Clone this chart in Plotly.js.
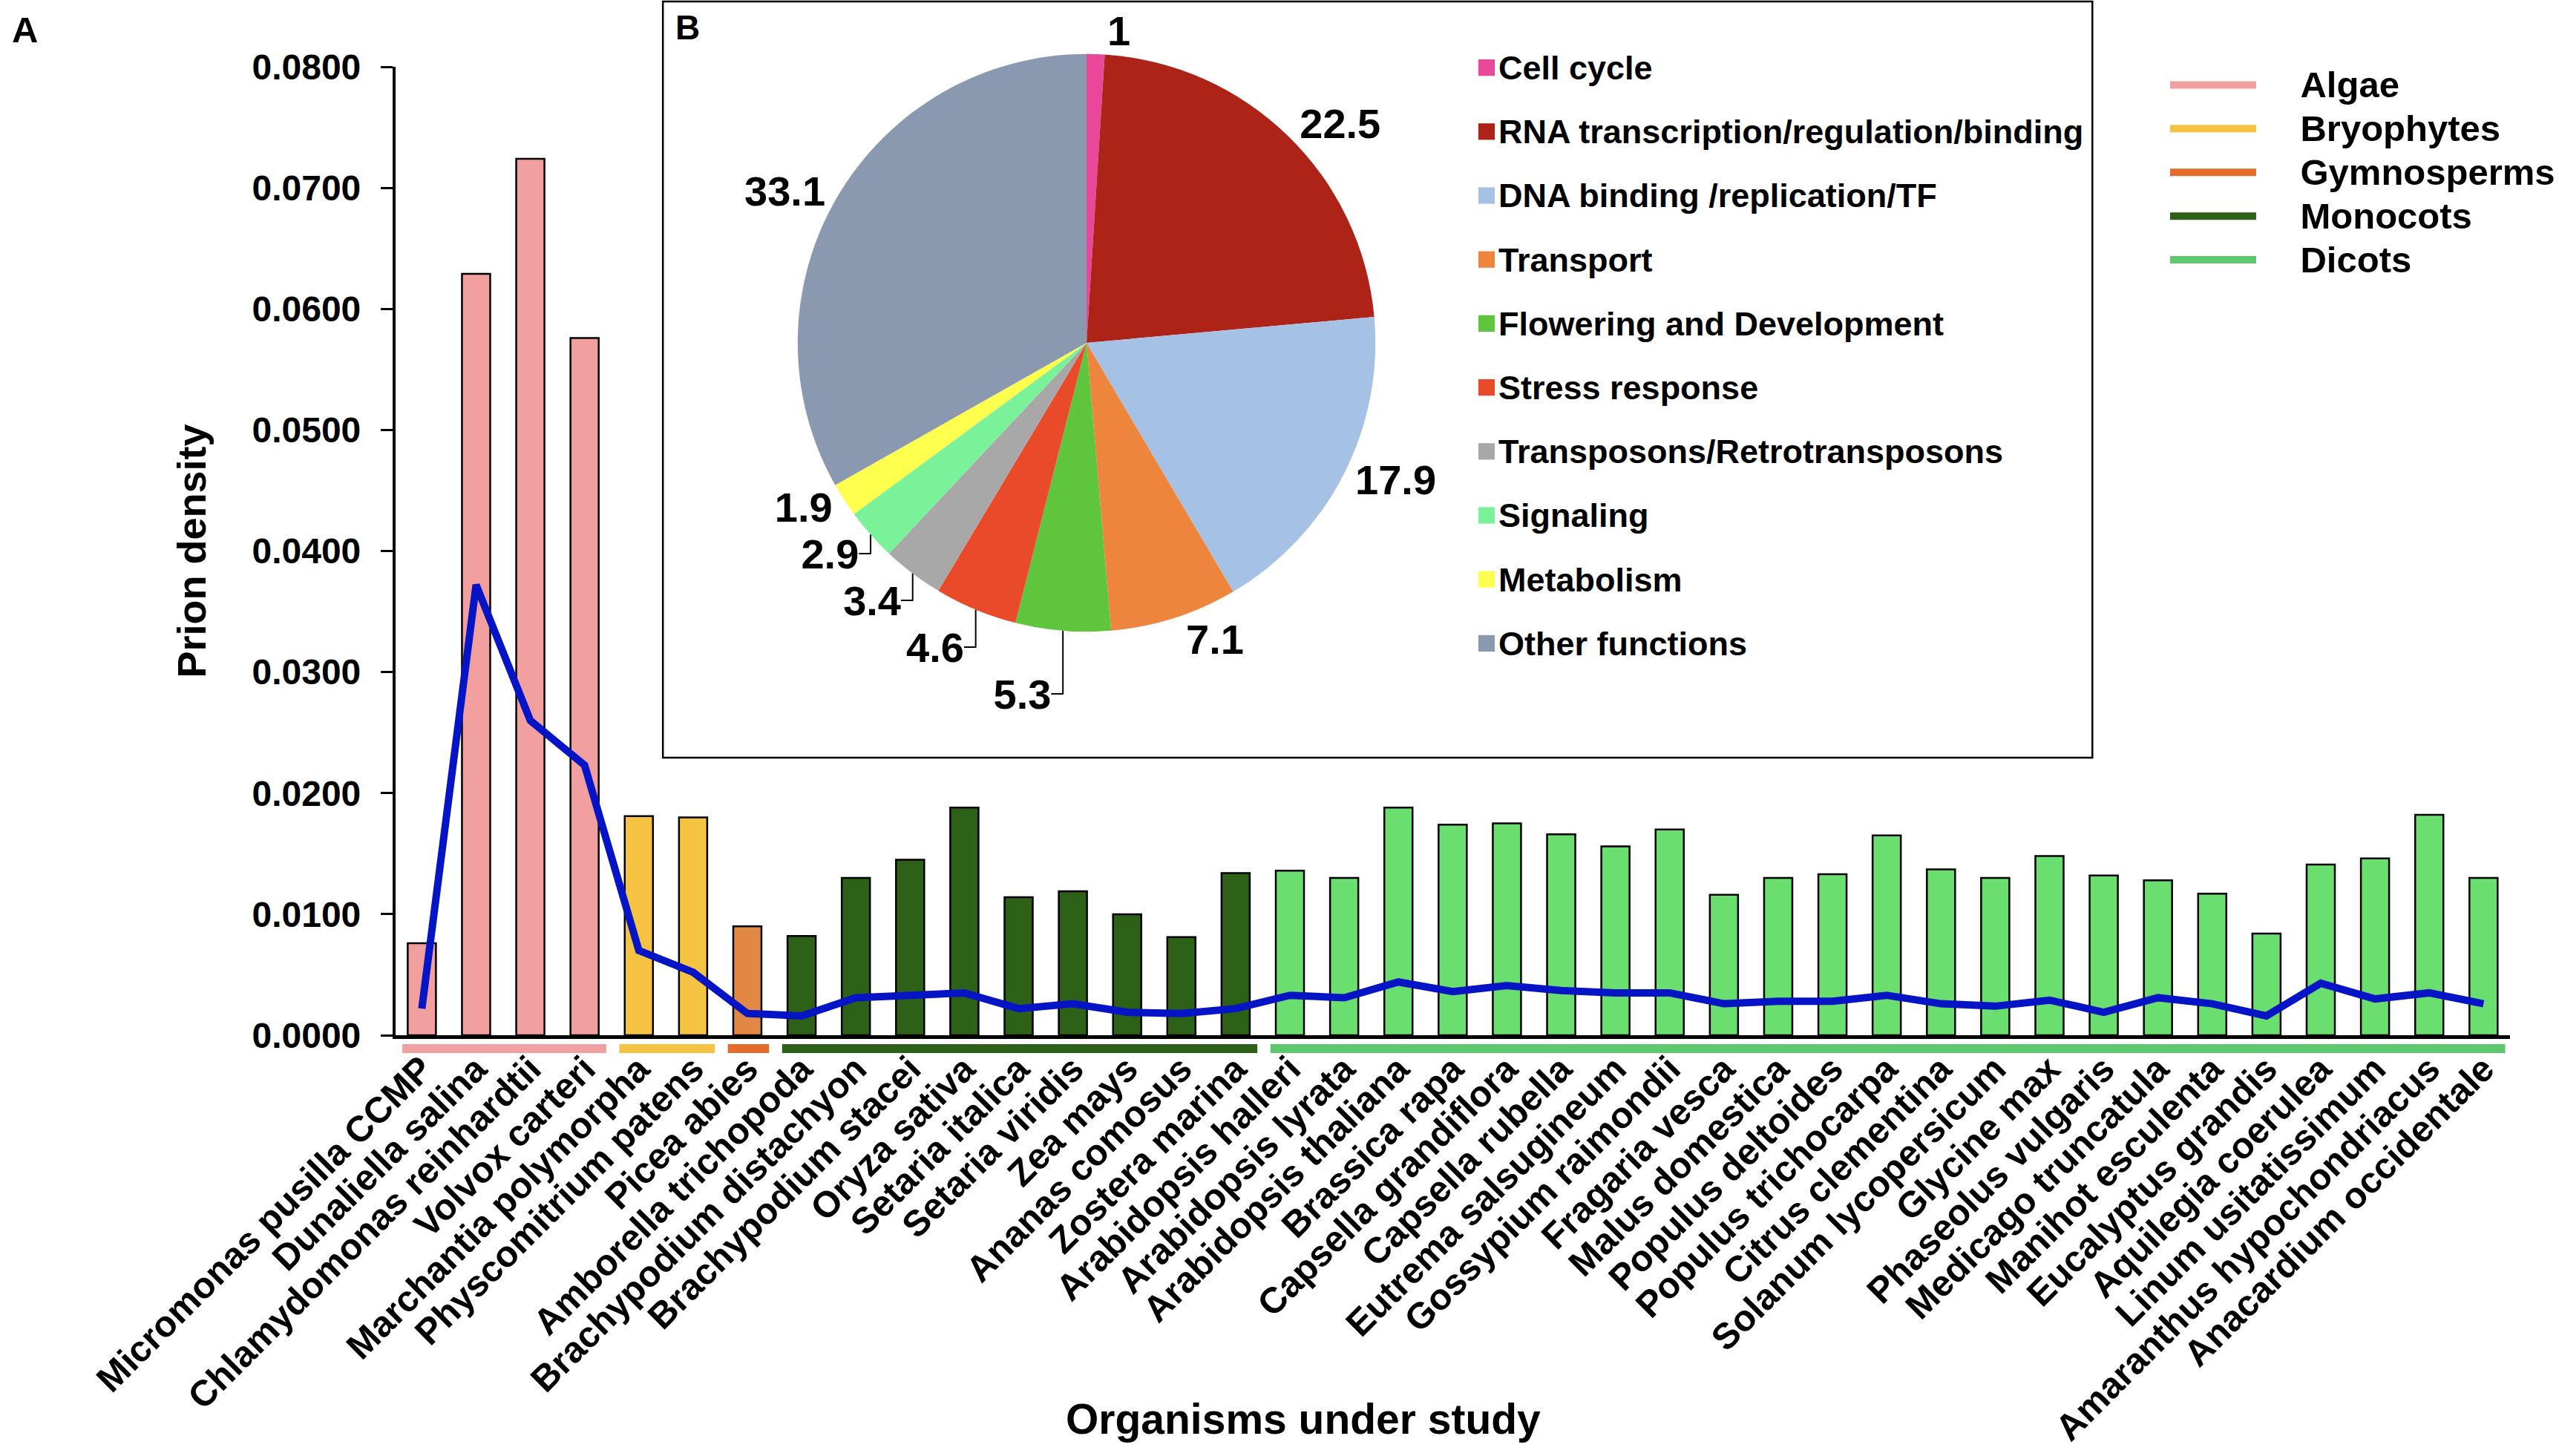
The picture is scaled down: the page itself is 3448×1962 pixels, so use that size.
<!DOCTYPE html>
<html>
<head>
<meta charset="utf-8">
<script src="https://cdn.plot.ly/plotly-3.0.1.min.js"></script>
<style>
  html, body { margin: 0; padding: 0; background: #ffffff; }
  #chart { width: 3448px; height: 1962px; }
</style>
</head>
<body>
<div id="chart"></div>
<script>
// ---------- DATA ----------
const organisms = [
  'Micromonas pusilla CCMP', 'Dunaliella salina', 'Chlamydomonas reinhardtii', 'Volvox carteri',
  'Marchantia polymorpha', 'Physcomitrium patens',
  'Picea abies',
  'Amborella trichopoda', 'Brachypodium distachyon', 'Brachypodium stacei', 'Oryza sativa',
  'Setaria italica', 'Setaria viridis', 'Zea mays', 'Ananas comosus', 'Zostera marina',
  'Arabidopsis halleri', 'Arabidopsis lyrata', 'Arabidopsis thaliana', 'Brassica rapa',
  'Capsella grandiflora', 'Capsella rubella', 'Eutrema salsugineum', 'Gossypium raimondii',
  'Fragaria vesca', 'Malus domestica', 'Populus deltoides', 'Populus trichocarpa',
  'Citrus clementina', 'Solanum lycopersicum', 'Glycine max', 'Phaseolus vulgaris',
  'Medicago truncatula', 'Manihot esculenta', 'Eucalyptus grandis', 'Aquilegia coerulea',
  'Linum usitatissimum', 'Amaranthus hypochondriacus', 'Anacardium occidentale'
];
const groupNames = ['Algae', 'Bryophytes', 'Gymnosperms', 'Monocots', 'Dicots'];
const groupCounts = [4, 2, 1, 9, 23];

const prionDensity = [
  0.0076, 0.0629, 0.0724, 0.0576,
  0.0181, 0.0180,
  0.0090,
  0.0082, 0.0130, 0.0145, 0.0188, 0.0114, 0.0119, 0.0100, 0.0081, 0.0134,
  0.0136, 0.0130, 0.0188, 0.0174, 0.0175, 0.0166, 0.0156, 0.0170,
  0.0116, 0.0130, 0.0133, 0.0165, 0.0137, 0.0130, 0.0148, 0.0132,
  0.0128, 0.0117, 0.0084, 0.0141, 0.0146, 0.0182, 0.0130
];
const trendLine = [
  0.0022, 0.0372, 0.0260, 0.0223,
  0.0070, 0.0052,
  0.0018,
  0.0016, 0.0031, 0.0033, 0.0035, 0.0022, 0.0026, 0.0019, 0.0018, 0.0022,
  0.0033, 0.0031, 0.0044, 0.0036, 0.0041, 0.0037, 0.0035, 0.0035,
  0.0026, 0.0028, 0.0028, 0.0033, 0.0026, 0.0024, 0.0029, 0.0019,
  0.0031, 0.0026, 0.0016, 0.0043, 0.0030, 0.0035, 0.0026
];
const yTickValues = [0, 0.01, 0.02, 0.03, 0.04, 0.05, 0.06, 0.07, 0.08];

const pieLabels = [
  'Cell cycle', 'RNA transcription/regulation/binding', 'DNA binding /replication/TF',
  'Transport', 'Flowering and Development', 'Stress response',
  'Transposons/Retrotransposons', 'Signaling', 'Metabolism', 'Other functions'
];
const pieValues = [1, 22.5, 17.9, 7.1, 5.3, 4.6, 3.4, 2.9, 1.9, 33.1];

// ---------- STYLES ----------
const barGroupColors = ['#F2A09F', '#F5C242', '#E08844', '#2D6118', '#6ADE6E'];
const underlineGroupColors = ['#F0A0A0', '#F5C242', '#E36C2C', '#2D6118', '#5CC96E'];
const pieColors = ['#E8479A', '#AE2318', '#A5C2E4', '#EE853C', '#5EC53C',
                   '#E84A2A', '#A8A8A8', '#7AF29A', '#FFFF4D', '#8A99B0'];
const FONT = 'Liberation Sans, Arial, Helvetica, sans-serif';
const W = 3448, H = 1962;
const UNDER_PAD_L = 0.36, UNDER_PAD_R = 0.40;
const LEG_PAD = '\u00A0\u00A0\u00A0\u00A0';

// ---------- BUILD ----------
const xIdx = organisms.map((_, i) => i);
const groupOfBar = [];
groupCounts.forEach((n, g) => { for (let k = 0; k < n; k++) groupOfBar.push(g); });

const traces = [];
traces.push({
  type: 'bar', x: xIdx, y: prionDensity, showlegend: false,
  marker: { color: groupOfBar.map(g => barGroupColors[g]), line: { color: '#000000', width: 2.5 } },
  hoverinfo: 'y'
});
traces.push({
  type: 'scatter', mode: 'lines', x: xIdx, y: trendLine, showlegend: false,
  line: { color: '#0514C4', width: 10 }, cliponaxis: false
});
let start = 0;
groupNames.forEach((name, g) => {
  const end = start + groupCounts[g] - 1;
  traces.push({
    type: 'scatter', mode: 'lines',
    name: '<span style="font-size:49px">' + LEG_PAD + name + '</span>',
    x: [start - UNDER_PAD_L, end + UNDER_PAD_R], y: [0.5, 0.5],
    xaxis: 'x', yaxis: 'y2',
    line: { color: underlineGroupColors[g], width: 12 },
    legend: 'legend', hoverinfo: 'skip'
  });
  start = end + 1;
});
traces.push({
  type: 'pie', labels: pieLabels.map(l => '<span style="font-size:45px">' + l + '</span>'),
  values: pieValues, sort: false, direction: 'clockwise', rotation: 0,
  marker: { colors: pieColors, line: { width: 0 } },
  textinfo: 'value', textposition: 'outside',
  textfont: { family: FONT, size: 56, color: '#000000', weight: 'bold' },
  domain: { x: [(1467 - 390) / W, (1467 + 390) / W], y: [(H - 852) / H, (H - 72) / H] },
  legend: 'legend2', showlegend: true, automargin: false
});

const layout = {
  width: W, height: H,
  margin: { l: 0, r: 0, t: 0, b: 0 },
  paper_bgcolor: '#ffffff', plot_bgcolor: 'rgba(0,0,0,0)',
  font: { family: FONT, color: '#000000' },
  bargap: 0.48,
  xaxis: {
    domain: [534 / W, 3389 / W], anchor: 'y',
    range: [-0.485, 38.49],
    tickmode: 'array', tickvals: xIdx, ticktext: organisms,
    tickangle: -45, ticks: '', showgrid: false, zeroline: false,
    showline: true, linecolor: '#000000', linewidth: 5,
    tickfont: { family: FONT, size: 49, color: '#000000', weight: 'bold' },
    ticklabelstandoff: -8, automargin: false
  },
  yaxis: {
    domain: [(H - 1395) / H, (H - 90) / H], anchor: 'x',
    range: [0, 0.08],
    tickmode: 'array', tickvals: yTickValues, tickformat: '.4f',
    ticks: 'outside', ticklen: 16, tickwidth: 3, tickcolor: '#000000',
    showgrid: false, zeroline: false,
    showline: true, linecolor: '#000000', linewidth: 4,
    tickfont: { family: FONT, size: 48, color: '#000000', weight: 'bold' },
    ticklabelstandoff: 17,
    title: { text: 'Prion density', font: { family: FONT, size: 54, color: '#000000', weight: 'bold' }, standoff: 46 },
    automargin: false
  },
  yaxis2: {
    domain: [(H - 1425) / H, (H - 1401) / H], anchor: 'x',
    range: [0, 1], visible: false, showgrid: false, zeroline: false, fixedrange: true
  },
  legend: {
    x: 2925 / W, xanchor: 'left', y: 1 - 80 / H, yanchor: 'top',
    bgcolor: 'rgba(0,0,0,0)', borderwidth: 0, itemwidth: 116,
    font: { family: FONT, size: 43, color: '#000000', weight: 'bold' },
    tracegroupgap: 0
  },
  legend2: {
    x: 1983 / W, xanchor: 'left', y: 1 - 34 / H, yanchor: 'top',
    bgcolor: 'rgba(0,0,0,0)', borderwidth: 0,
    font: { family: FONT, size: 64, color: '#000000', weight: 'bold' }
  },
  shapes: [{
    type: 'rect', xref: 'paper', yref: 'paper', layer: 'below',
    x0: 895 / W, x1: 2825 / W, y0: 1 - 1021 / H, y1: 1 - 2 / H,
    line: { color: '#000000', width: 2.5 }, fillcolor: 'rgba(0,0,0,0)'
  }],
  annotations: [
    { text: 'A', xref: 'paper', yref: 'paper', x: 34 / W, y: 1 - 40 / H, xanchor: 'center', yanchor: 'middle',
      showarrow: false, font: { family: FONT, size: 49, color: '#000000', weight: 'bold' } },
    { text: 'B', xref: 'paper', yref: 'paper', x: 928 / W, y: 1 - 37 / H, xanchor: 'center', yanchor: 'middle',
      showarrow: false, font: { family: FONT, size: 46, color: '#000000', weight: 'bold' } },
    { text: 'Organisms under study', xref: 'paper', yref: 'paper', x: 1760 / W, y: 1 - 1912 / H,
      xanchor: 'center', yanchor: 'middle',
      showarrow: false, font: { family: FONT, size: 57, color: '#000000', weight: 'bold' } }
  ],
  showlegend: true
};

Plotly.newPlot('chart', traces, layout, { displayModeBar: false, staticPlot: true }).then(gd => {
  // enlarge the pie legend swatches to match the reference's square keys
  gd.querySelectorAll('.legend2 path.legendpie, g.legend2 .legendpie, .legendpie').forEach(p => {
    p.setAttribute('transform', 'translate(24,9) scale(1.85)');
  });
});
</script>
</body>
</html>
